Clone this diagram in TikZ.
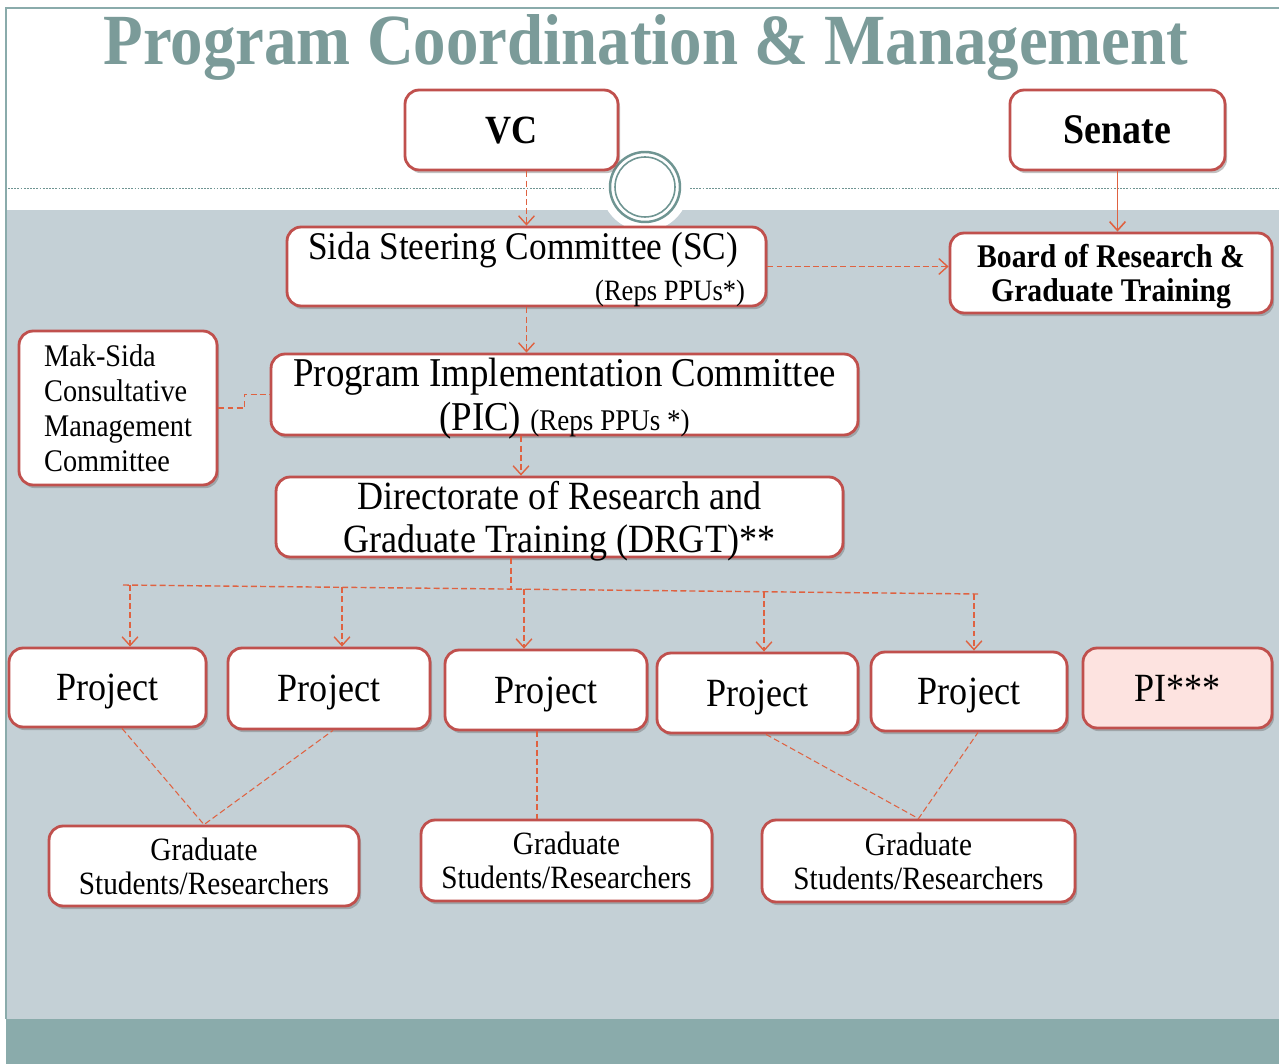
\documentclass[tikz,border=0pt]{standalone}
\usepackage{fontspec}
\setmainfont{Liberation Serif}[FakeStretch=0.9]
\usepackage{tikz}
\usepackage{xcolor}
\usetikzlibrary{arrows.meta,shadows}

\definecolor{boxred}{HTML}{C0504D}
\definecolor{linkred}{HTML}{DF6241}
\definecolor{slate}{HTML}{C4D0D6}
\definecolor{barteal}{HTML}{8AABAB}
\definecolor{titleteal}{HTML}{7B9B99}
\definecolor{ringteal}{HTML}{6F9592}
\definecolor{pifill}{HTML}{FDE3E0}

\begin{document}
\begin{tikzpicture}[x=0.02cm, y=-0.02cm,
        box/.style={draw=boxred, line width=1.6pt, fill=white, rounded corners=8pt, inner sep=0pt, align=center, text depth=0pt,
            drop shadow={shadow xshift=1.2pt, shadow yshift=-1.8pt, fill=black!60, opacity=0.4}},
        link/.style={draw=linkred, line width=0.8pt, dash pattern=on 3.4pt off 1.8pt},
        arr/.style={link, -{Straight Barb[length=5pt, width=9pt]}},
        big/.style={font=\fontsize{22.8}{24.5}\selectfont},
        grad/.style={font=\fontsize{18.5}{19.4}\selectfont}]
                \useasboundingbox (0,0) rectangle (1279,1064);
                \fill[white] (0,0) rectangle (1279,1064);
                \fill[slate] (6,210) rectangle (1279,1019);
                \fill[barteal] (6,1019) rectangle (1279,1064);
                \draw[barteal, line width=0.6pt] (1279,8) -- (6,8) -- (6,1019);
                \fill[white] (645,187) circle[radius=0.88cm];
                \draw[ringteal, line width=0.5pt, dash pattern=on 1pt off 0.8pt] (8,188) -- (605,188);
                \draw[ringteal, line width=0.5pt, dash pattern=on 1pt off 0.8pt] (690,188) -- (1279,188);
                \draw[ringteal, line width=1.4pt] (645,187) circle[radius=0.7cm];
                \draw[ringteal, line width=0.9pt] (645,187) circle[radius=0.6cm];

                \node[font=\bfseries\fontsize{41}{44}\selectfont, text=titleteal, anchor=base] (title) at (646,65) {Program Coordination \& Management};

                \node[box, minimum width=4.26cm, minimum height=1.6cm, font=\bfseries\fontsize{22.8}{24.5}\selectfont] (VC) at (511.5,130) {VC};
                \node[box, minimum width=4.3cm, minimum height=1.6cm, font=\bfseries\fontsize{24}{25}\selectfont] (Senate) at (1117.5,130) {Senate};
                \node[box, minimum width=9.58cm, minimum height=1.58cm, align=right, font=\fontsize{22.3}{23.3}\selectfont] (SC) at (526.5,266.5)
                    {Sida Steering Committee (SC)\hspace*{4pt}\\{\fontsize{16.8}{23.3}\selectfont(Reps PPUs*)}};
                \node[box, minimum width=6.44cm, minimum height=1.6cm, font=\bfseries\fontsize{18.8}{19.4}\selectfont] (Board) at (1111,273)
                    {Board of Research \&\\Graduate Training};
                \node[box, minimum width=3.96cm, minimum height=3.08cm, align=left, font=\fontsize{17.9}{19.9}\selectfont] (Mak) at (118,408)
                    {Mak-Sida\\Consultative\\Management\\Committee};
                \node[box, minimum width=11.74cm, minimum height=1.62cm, font=\fontsize{23.3}{25}\selectfont] (PIC) at (564.5,394.5)
                    {Program Implementation Committee\\(PIC) {\fontsize{17.1}{25}\selectfont(Reps PPUs *)}};
                \node[box, big, minimum width=11.34cm, minimum height=1.6cm] (DRGT) at (559.5,517)
                    {Directorate of Research and\\Graduate Training (DRGT)**};

                \node[box, big, minimum width=3.94cm, minimum height=1.58cm] (P1) at (107.5,687.5) {Project};
                \node[box, big, minimum width=4.04cm, minimum height=1.62cm] (P2) at (329,688.5) {Project};
                \node[box, big, minimum width=4.04cm, minimum height=1.6cm] (P3) at (546,690) {Project};
                \node[box, big, minimum width=4.02cm, minimum height=1.6cm] (P4) at (757.5,693) {Project};
                \node[box, big, minimum width=3.92cm, minimum height=1.58cm] (P5) at (969,691.5) {Project};
                \node[box, big, fill=pifill, minimum width=3.78cm, minimum height=1.6cm] (PI) at (1177.5,688) {PI***};

                \node[box, grad, minimum width=6.2cm, minimum height=1.6cm] (G1) at (204,866) {Graduate\\Students/Researchers};
                \node[box, grad, minimum width=5.82cm, minimum height=1.62cm] (G2) at (566.5,860.5) {Graduate\\Students/Researchers};
                \node[box, grad, minimum width=6.26cm, minimum height=1.64cm] (G3) at (918.5,861) {Graduate\\Students/Researchers};

                \draw[arr] (VC.south -| SC.north) -- (SC.north);
                \draw[draw=linkred, line width=0.9pt, -{Straight Barb[length=5pt, width=9pt]}] (Senate.south) -- (Senate.south |- Board.north);
                \draw[arr] (SC.east) -- (SC.east -| Board.west);
                \draw[arr] (SC.south) -- (SC.south |- PIC.north);
                \draw[link] (Mak.east) -- ++(26,0) |- (PIC.west);
                \draw[arr] (PIC.south -| 521,0) -- (DRGT.north -| 521,0);

                \coordinate (busL) at (123,585);
                \coordinate (busR) at (978,594);
                \draw[link] (DRGT.south -| 511,0) -- (511,589);
                \draw[link] (busL) -- (busR);
                \foreach \x/\p in {130/P1, 342/P2, 524/P3, 764/P4, 974/P5}
                    \draw[arr] (\x,{585+9*(\x-123)/855}) -- (\p.north -| \x,0);

                \draw[link, line width=0.6pt] (P1.south -| 122,0) -- (G1.north) -- (P2.south -| 333,0);
                \draw[link, line width=0.6pt] (P3.south -| 537,0) -- (G2.north -| 537,0);
                \draw[link, line width=0.6pt] (P4.south -| 766,0) -- (G3.north) -- (P5.south -| 978,0);
            \end{tikzpicture}
\end{document}
